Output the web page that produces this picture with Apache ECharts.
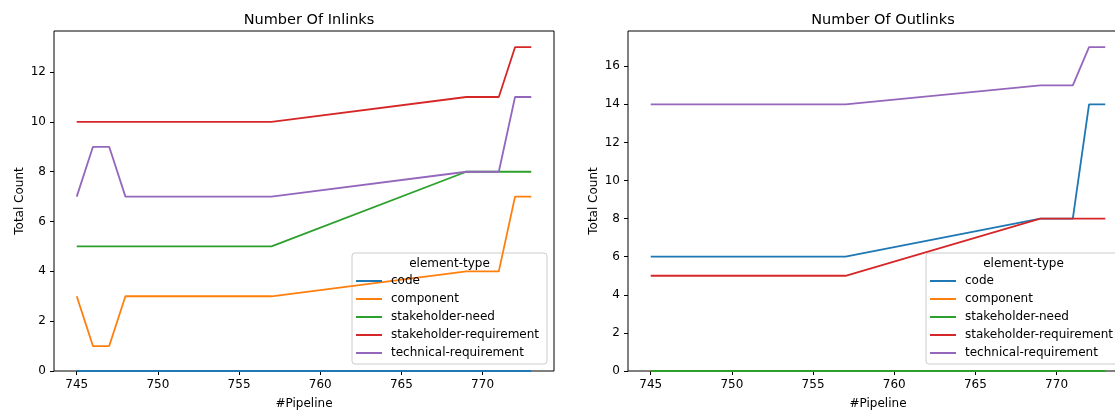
<!DOCTYPE html>
<html>
<head>
<meta charset="utf-8">
<script src="https://cdn.jsdelivr.net/npm/echarts@6/dist/echarts.min.js"></script>
<style>
  html, body { margin: 0; padding: 0; background: #fff; }
</style>
</head>
<body>
<div id="myChart" style="width:1115px;height:410px;"></div>
<script>
// pipeline numbers on the x axis
const pipelines = [745, 746, 747, 748, 757, 769, 771, 772, 773];
const elementTypes = ['code', 'component', 'stakeholder-need', 'stakeholder-requirement', 'technical-requirement'];
const colors = ['#1f77b4', '#ff7f0e', '#2ca02c', '#d62728', '#9467bd'];

// inlinks per element type
const inCode = [0, 0, 0, 0, 0, 0, 0, 0, 0];
const inComponent = [3, 1, 1, 3, 3, 4, 4, 7, 7];
const inStakeholderNeed = [5, 5, 5, 5, 5, 8, 8, 8, 8];
const inStakeholderReq = [10, 10, 10, 10, 10, 11, 11, 13, 13];
const inTechnicalReq = [7, 9, 9, 7, 7, 8, 8, 11, 11];

// outlinks per element type
const outCode = [6, 6, 6, 6, 6, 8, 8, 14, 14];
const outComponent = [0, 0, 0, 0, 0, 0, 0, 0, 0];
const outStakeholderNeed = [0, 0, 0, 0, 0, 0, 0, 0, 0];
const outStakeholderReq = [5, 5, 5, 5, 5, 8, 8, 8, 8];
const outTechnicalReq = [14, 14, 14, 14, 14, 15, 15, 17, 17];

// tick labels
const xTicks = [745, 750, 755, 760, 765, 770];
const yTicksIn = [0, 2, 4, 6, 8, 10, 12];
const yTicksOut = [0, 2, 4, 6, 8, 10, 12, 14, 16];

const inSeries = [inCode, inComponent, inStakeholderNeed, inStakeholderReq, inTechnicalReq];
const outSeries = [outCode, outComponent, outStakeholderNeed, outStakeholderReq, outTechnicalReq];

const font = 'DejaVu Sans';

function makeSeries(list, idx) {
  return list.map((arr, i) => ({
    name: elementTypes[i],
    type: 'line',
    xAxisIndex: idx,
    yAxisIndex: idx,
    symbol: 'none',
    color: colors[i],
    lineStyle: { width: 1.8, color: colors[i] },
    emphasis: { disabled: true },
    data: pipelines.map((p, j) => [p, arr[j]])
  }));
}

function xAxis(idx) {
  return {
    type: 'value',
    gridIndex: idx,
    min: 743.6,
    max: 774.4,
    name: '#Pipeline',
    nameLocation: 'middle',
    nameGap: 27,
    nameTextStyle: { fontFamily: font, fontSize: 12, color: '#000' },
    axisLine: { show: false },
    axisTick: { show: true, length: 4, lineStyle: { color: '#000' }, customValues: xTicks },
    axisLabel: { fontFamily: font, fontSize: 12, color: '#000', margin: 8, customValues: xTicks },
    splitLine: { show: false }
  };
}

function yAxis(idx, max, ticks) {
  return {
    type: 'value',
    gridIndex: idx,
    min: 0,
    max: max,
    name: 'Total Count',
    nameLocation: 'middle',
    nameGap: 28,
    nameTextStyle: { fontFamily: font, fontSize: 12, color: '#000' },
    axisLine: { show: false },
    axisTick: { show: true, length: 4, lineStyle: { color: '#000' }, customValues: ticks },
    axisLabel: { fontFamily: font, fontSize: 12, color: '#000', margin: 8, customValues: ticks },
    splitLine: { show: false }
  };
}

function legend(left) {
  return {
    orient: 'vertical',
    left: left,
    top: 274,
    padding: 0,
    itemGap: 4,
    itemWidth: 26,
    itemHeight: 2,
    icon: 'rect',
    selectedMode: false,
    data: elementTypes,
    textStyle: { fontFamily: font, fontSize: 12, color: '#000', lineHeight: 14, padding: [0, 0, 0, 4] }
  };
}

function legendBox(x) {
  return [
    {
      type: 'rect', z: 3,
      shape: { x: x, y: 253, width: 195, height: 111, r: 3 },
      style: { fill: 'rgba(255,255,255,0.8)', stroke: '#cccccc', lineWidth: 1 }
    },
    {
      type: 'text', z: 4,
      x: x + 97.5, y: 263.5,
      style: { text: 'element-type', fontFamily: font, fontSize: 12, fill: '#000', align: 'center', verticalAlign: 'middle' }
    }
  ];
}

let myChart = echarts.init(document.getElementById('myChart'));
myChart.setOption({
  animation: false,
  backgroundColor: '#fff',
  title: [
    { text: 'Number Of Inlinks', left: 304, top: 8, textAlign: 'center', textStyle: { fontFamily: font, fontSize: 14.5, fontWeight: 'normal', color: '#000' } },
    { text: 'Number Of Outlinks', left: 878, top: 8, textAlign: 'center', textStyle: { fontFamily: font, fontSize: 14.5, fontWeight: 'normal', color: '#000' } }
  ],
  grid: [
    { left: 54, top: 31, width: 500, height: 340, outerBoundsMode: 'none', show: true, borderColor: '#000', borderWidth: 1 },
    { left: 628, top: 31, width: 500, height: 340, outerBoundsMode: 'none', show: true, borderColor: '#000', borderWidth: 1 }
  ],
  xAxis: [xAxis(0), xAxis(1)],
  yAxis: [yAxis(0, 13.65, yTicksIn), yAxis(1, 17.85, yTicksOut)],
  legend: [legend(356), legend(930)],
  graphic: legendBox(352).concat(legendBox(926)),
  series: makeSeries(inSeries, 0).concat(makeSeries(outSeries, 1))
});

window.onresize = function () {
  myChart.resize();
};
</script>
</body>
</html>
